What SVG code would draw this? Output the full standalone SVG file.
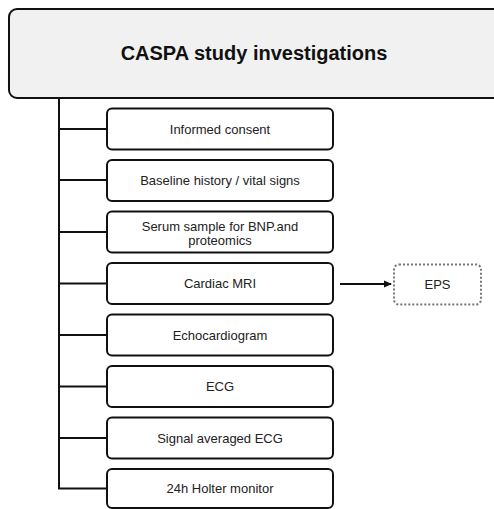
<svg xmlns="http://www.w3.org/2000/svg" width="494" height="509" viewBox="0 0 494 509">
<style>
.box{fill:#ffffff;stroke:#111;stroke-width:2}
.t{font-family:"Liberation Sans",Arial,sans-serif;font-size:13px;fill:#222;text-anchor:middle}
.conn{stroke:#111;stroke-width:2;fill:none}
</style>
<defs>
<marker id="ah" markerWidth="8" markerHeight="8" refX="7" refY="4" orient="auto" markerUnits="userSpaceOnUse">
<path d="M0,0.5 L8,4 L0,7.5 Z" fill="#111"/>
</marker>
</defs>
<rect width="494" height="509" fill="#ffffff"/>
<g id="title">
<rect x="9" y="9" width="495" height="89" rx="8" fill="#f1f1f1" stroke="#111" stroke-width="2"/>
<text x="254" y="60" font-family="'Liberation Sans',Arial,sans-serif" font-size="20" font-weight="bold" fill="#111" text-anchor="middle">CASPA study investigations</text>
</g>
<g id="connectors">
<path class="conn" d="M59,98 V488.5 H107"/>
<path class="conn" d="M59,129 H107 M59,180 H107 M59,232 H107 M59,283.5 H107 M59,335 H107 M59,386.5 H107 M59,438 H107"/>
<path class="conn" d="M340,284 H391" marker-end="url(#ah)"/>
</g>
<g id="n1"><rect class="box" x="107" y="108.5" width="226" height="41" rx="5"/><text class="t" x="220" y="133.5">Informed consent</text></g>
<g id="n2"><rect class="box" x="107" y="160" width="226" height="41" rx="5"/><text class="t" x="220" y="185">Baseline history / vital signs</text></g>
<g id="n3"><rect class="box" x="107" y="211.5" width="226" height="41" rx="5"/><text class="t" x="220" y="230.5">Serum sample for BNP.and</text><text class="t" x="220" y="244.5">proteomics</text></g>
<g id="n4"><rect class="box" x="107" y="263" width="226" height="41" rx="5"/><text class="t" x="220" y="288">Cardiac MRI</text></g>
<g id="n5"><rect class="box" x="107" y="314.5" width="226" height="41" rx="5"/><text class="t" x="220" y="339.5">Echocardiogram</text></g>
<g id="n6"><rect class="box" x="107" y="366" width="226" height="41" rx="5"/><text class="t" x="220" y="391">ECG</text></g>
<g id="n7"><rect class="box" x="107" y="417.5" width="226" height="41" rx="5"/><text class="t" x="220" y="442.5">Signal averaged ECG</text></g>
<g id="n8"><rect class="box" x="107" y="469" width="226" height="39" rx="5"/><text class="t" x="220" y="493">24h Holter monitor</text></g>
<g id="eps"><rect x="394" y="264.5" width="87" height="40" rx="5" fill="#fff" stroke="#777" stroke-width="2" stroke-dasharray="2,2"/><text class="t" x="437.5" y="289">EPS</text></g>
</svg>
